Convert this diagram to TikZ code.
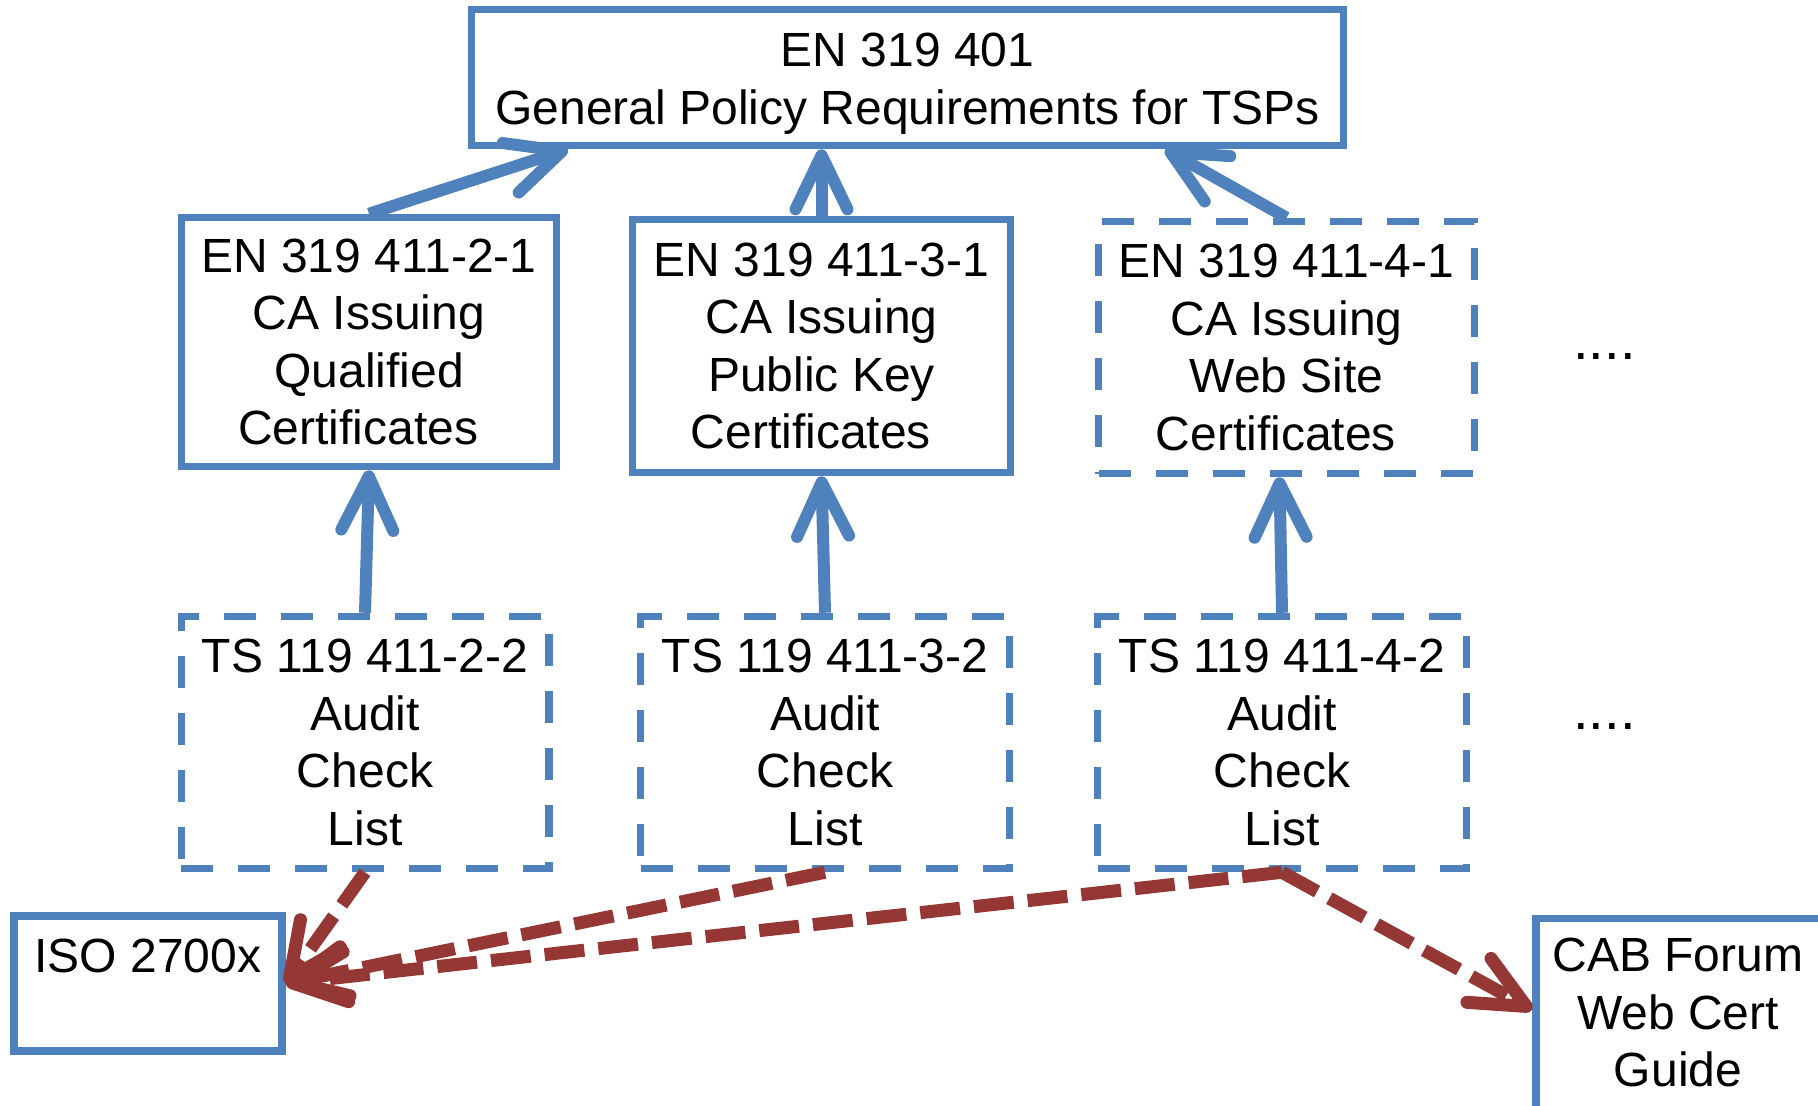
\documentclass[tikz,border=0pt]{standalone}
\usepackage{fontspec}
\setmainfont{Liberation Sans}
\usetikzlibrary{arrows.meta,calc}
\definecolor{boxblue}{HTML}{4F81BD}
\definecolor{arrred}{HTML}{953735}
\newcommand{\tsp}{\kern.45em}
\begin{document}
\begin{tikzpicture}[x=0.5pt,y=-0.5pt,
  box/.style={draw=boxblue, line width=3.75pt, align=center, inner sep=0pt,
    font=\fontsize{24}{28.8}\selectfont},
  dbox/.style={box, dash pattern=on 16pt off 12.5pt},
  txt/.style={align=center, inner sep=0pt, font=\fontsize{24}{28.8}\selectfont},
  dots/.style={inner sep=0pt, anchor=base west, font=\fontsize{28}{30}\selectfont},
  barrow/.style={draw=boxblue, line width=6pt,
    -{Straight Barb[length=27pt,width=26pt,round]}},
  rarrow/.style={draw=arrred, line width=6.5pt, dash pattern=on 20pt off 7pt,
    -{Straight Barb[length=27pt,width=25pt,round]}}
]
\useasboundingbox (0,0) rectangle (1818,1105);
\clip (0,0) rectangle (1818,1105);
\fill[white] (0,0) rectangle (1818,1105);

% top box
\node[box, minimum width=436pt, minimum height=68pt] (top) at (907.5,77.5)
  {\rule{0pt}{23pt}EN 319 401\\General Policy Requirements for TSPs};

% EN boxes
\node[box, minimum width=187.5pt, minimum height=124.5pt] (A) at (369,342)
  {EN 319 411-2-1\\CA Issuing\\Qualified\\Certificates\tsp};
\node[box, minimum width=189pt, minimum height=126.5pt] (B) at (821.5,346)
  {EN 319 411-3-1\\CA Issuing\\Public Key\\Certificates\tsp};
\node[dbox, minimum width=188pt, minimum height=126pt] (C) at (1286.5,347.5)
  {EN 319 411-4-1\\CA Issuing\\Web Site\\Certificates\tsp};

% TS boxes
\node[dbox, minimum width=183.75pt, minimum height=126pt] (tsA) at (365,742.5)
  {TS 119 411-2-2\\Audit\\Check\\List};
\node[dbox, minimum width=184.5pt, minimum height=126pt] (tsB) at (825,742.5)
  {TS 119 411-3-2\\Audit\\Check\\List};
\node[dbox, minimum width=184.5pt, minimum height=126pt] (tsC) at (1282,742.5)
  {TS 119 411-4-2\\Audit\\Check\\List};

% dots
\node[dots] (dots1) at (1573,359) {....};
\node[dots] (dots2) at (1573,729) {....};

% ISO box
\node[box, minimum width=134pt, minimum height=67.5pt] (iso) at (148,983.5) {};
\node[txt] (isotxt) at (148,956) {ISO 2700x};

% CAB box
\node[box, anchor=north west, minimum width=250pt, minimum height=150pt] (cab) at (1532,914.5) {};
\node[txt] (cabtxt) at (1678,1012.5) {CAB Forum\\Web Cert\\Guide};

% blue arrows
\draw[barrow] (A.north) -- ($(top.south west)+(100,0)$);
\draw[barrow] (B.north) -- (B.north |- top.south);
\draw[barrow] (C.north) -- ($(top.south east)+(-182,0)$);
\draw[barrow] (tsA.north) -- (A.south);
\draw[barrow] (tsB.north) -- (B.south);
\draw[barrow] (tsC.north) -- ($(C.south)+(-7,0)$);

% red dashed arrows
\draw[rarrow] (tsA.south) -- (iso.east);
\draw[rarrow] (tsB.south) -- (iso.east);
\draw[rarrow] (tsC.south) -- (iso.east);
\draw[rarrow] (tsC.south) -- ($(cab.north west)+(0,95)$);
\end{tikzpicture}
\end{document}
